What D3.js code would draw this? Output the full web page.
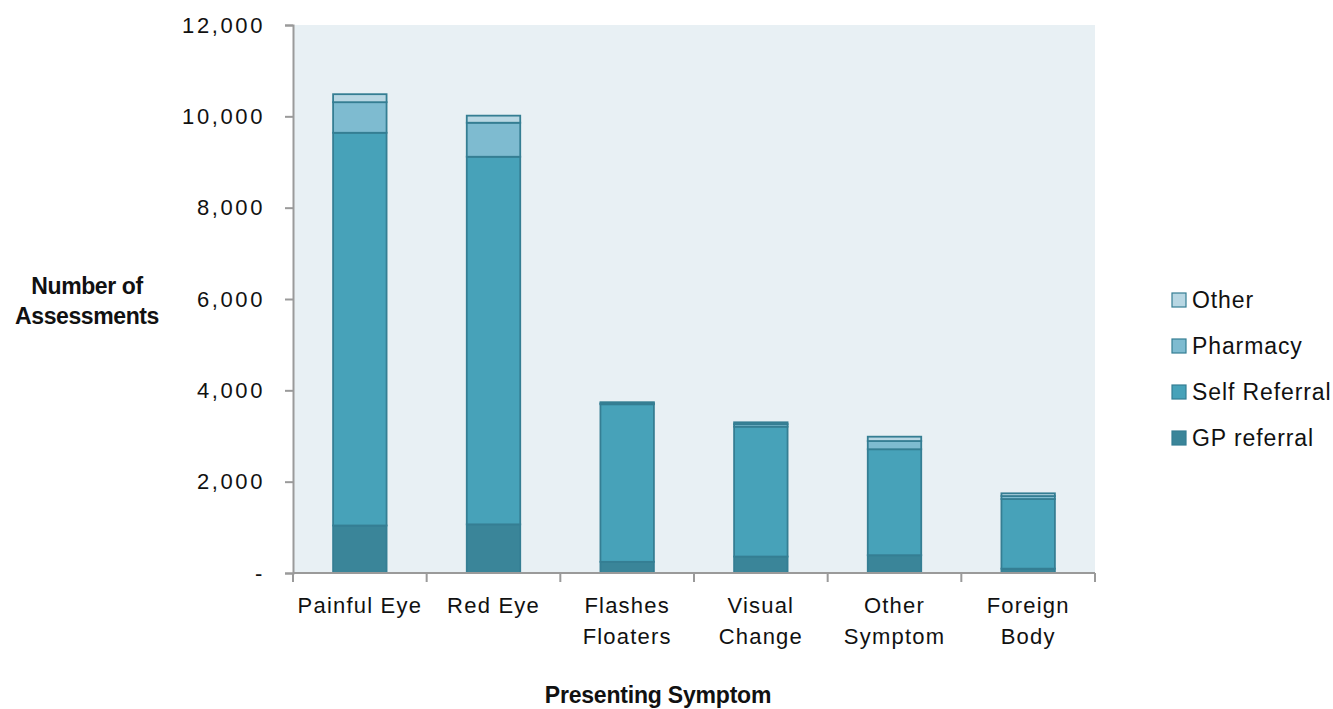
<!DOCTYPE html>
<html>
<head>
<meta charset="utf-8">
<script src="https://cdn.jsdelivr.net/npm/d3@7"></script>
<style>
  html, body { margin: 0; padding: 0; background: #ffffff; }
  svg { display: block; }
  text { font-family: "Liberation Sans", Arial, sans-serif; fill: #111; }
</style>
</head>
<body>
<svg id="chart" width="1333" height="709"></svg>
<script>
// Presenting symptom categories (two-line labels)
const categories = ["Painful Eye", "Red Eye", "Flashes Floaters", "Visual Change", "Other Symptom", "Foreign Body"];
const categoryLines = [["Painful Eye"], ["Red Eye"], ["Flashes", "Floaters"], ["Visual", "Change"], ["Other", "Symptom"], ["Foreign", "Body"]];

// Number of assessments by referral source
const gpReferral   = [1040, 1065, 245, 360, 390, 95];
const selfReferral = [8600, 8050, 3450, 2845, 2320, 1525];
const pharmacy     = [670, 745, 20, 55, 180, 65];
const other        = [175, 155, 25, 40, 95, 60];

const seriesNames = ["GP referral", "Self Referral", "Pharmacy", "Other"];
const yTicks = [0, 2000, 4000, 6000, 8000, 10000, 12000];

const colors = {
  "GP referral": "#3a8599",
  "Self Referral": "#47a2b9",
  "Pharmacy": "#7ebbd0",
  "Other": "#b8d7e3"
};

const rows = categories.map((c, i) => ({
  category: c,
  "GP referral": gpReferral[i],
  "Self Referral": selfReferral[i],
  "Pharmacy": pharmacy[i],
  "Other": other[i]
}));

const svg = d3.select("#chart");
const plot = { left: 293, right: 1095, top: 25, bottom: 573 };

const x = d3.scaleBand().domain(categories).range([plot.left, plot.right]).paddingInner(0.6).paddingOuter(0.3);
const xBand = d3.scaleBand().domain(categories).range([plot.left, plot.right]);
const y = d3.scaleLinear().domain([0, 12000]).range([plot.bottom, plot.top]);

// plot background
svg.append("rect")
  .attr("x", plot.left).attr("y", plot.top)
  .attr("width", plot.right - plot.left).attr("height", plot.bottom - plot.top)
  .attr("fill", "#e8f0f4");

// stacked bars
const stacked = d3.stack().keys(seriesNames)(rows);
svg.append("g").selectAll("g")
  .data(stacked)
  .join("g")
  .attr("fill", d => colors[d.key])
  .selectAll("rect")
  .data(d => d)
  .join("rect")
  .attr("x", d => x(d.data.category))
  .attr("width", x.bandwidth())
  .attr("y", d => y(d[1]))
  .attr("height", d => y(d[0]) - y(d[1]))
  .attr("stroke", "#357e93")
  .attr("stroke-width", 1.8);

// y axis
const yAxis = d3.axisLeft(y)
  .tickValues(yTicks)
  .tickSize(8)
  .tickPadding(20)
  .tickFormat(d => d === 0 ? "-" : d3.format(",")(d));
const gy = svg.append("g").attr("transform", `translate(${plot.left},0)`).call(yAxis);
gy.select(".domain").attr("stroke", "#9a9a9a").attr("stroke-width", 2);
gy.selectAll(".tick line").attr("stroke", "#9a9a9a").attr("stroke-width", 2);
gy.selectAll(".tick text")
  .style("font-size", "22px")
  .style("letter-spacing", "2.6px")
  .attr("fill", "#111");

// x axis: ticks at band boundaries
const gx = svg.append("g").attr("transform", `translate(0,${plot.bottom})`);
gx.append("line")
  .attr("x1", plot.left).attr("x2", plot.right)
  .attr("stroke", "#9a9a9a").attr("stroke-width", 2);
const boundaries = categories.map(c => xBand(c) + xBand.bandwidth()).concat([plot.left]);
gx.selectAll("line.tk")
  .data(boundaries)
  .join("line")
  .attr("class", "tk")
  .attr("x1", d => d).attr("x2", d => d)
  .attr("y1", 0).attr("y2", 9)
  .attr("stroke", "#9a9a9a").attr("stroke-width", 2);

const labels = gx.selectAll("text.cat")
  .data(categories)
  .join("text")
  .attr("class", "cat")
  .attr("text-anchor", "middle")
  .attr("x", d => xBand(d) + xBand.bandwidth() / 2)
  .attr("y", 40)
  .style("font-size", "22px")
  .style("letter-spacing", "1.2px");
labels.selectAll("tspan")
  .data((d, i) => categoryLines[i])
  .join("tspan")
  .attr("x", function () { return d3.select(this.parentNode).attr("x"); })
  .attr("dy", (d, i) => i === 0 ? 0 : 31)
  .text(d => d);

// axis titles
const yTitle = svg.append("text")
  .attr("text-anchor", "middle")
  .attr("x", 87).attr("y", 294)
  .style("font-size", "23px")
  .style("letter-spacing", "-0.4px")
  .style("font-weight", "bold");
yTitle.append("tspan").attr("x", 87).text("Number of");
yTitle.append("tspan").attr("x", 87).attr("dy", 30).text("Assessments");

svg.append("text")
  .attr("text-anchor", "middle")
  .attr("x", 658).attr("y", 703)
  .style("font-size", "23px")
  .style("letter-spacing", "-0.2px")
  .style("font-weight", "bold")
  .text("Presenting Symptom");

// legend (top entry is the top of the stack)
const legendItems = seriesNames.slice().reverse();
const legend = svg.append("g")
  .selectAll("g")
  .data(legendItems)
  .join("g")
  .attr("transform", (d, i) => `translate(1172, ${300 + i * 46})`);
legend.append("rect")
  .attr("x", 0).attr("y", -7)
  .attr("width", 14).attr("height", 14)
  .attr("fill", d => colors[d])
  .attr("stroke", "#357e93")
  .attr("stroke-width", 1.2);
legend.append("text")
  .attr("x", 20).attr("y", 8)
  .style("font-size", "23px")
  .style("letter-spacing", "0.9px")
  .text(d => d);
</script>
</body>
</html>
